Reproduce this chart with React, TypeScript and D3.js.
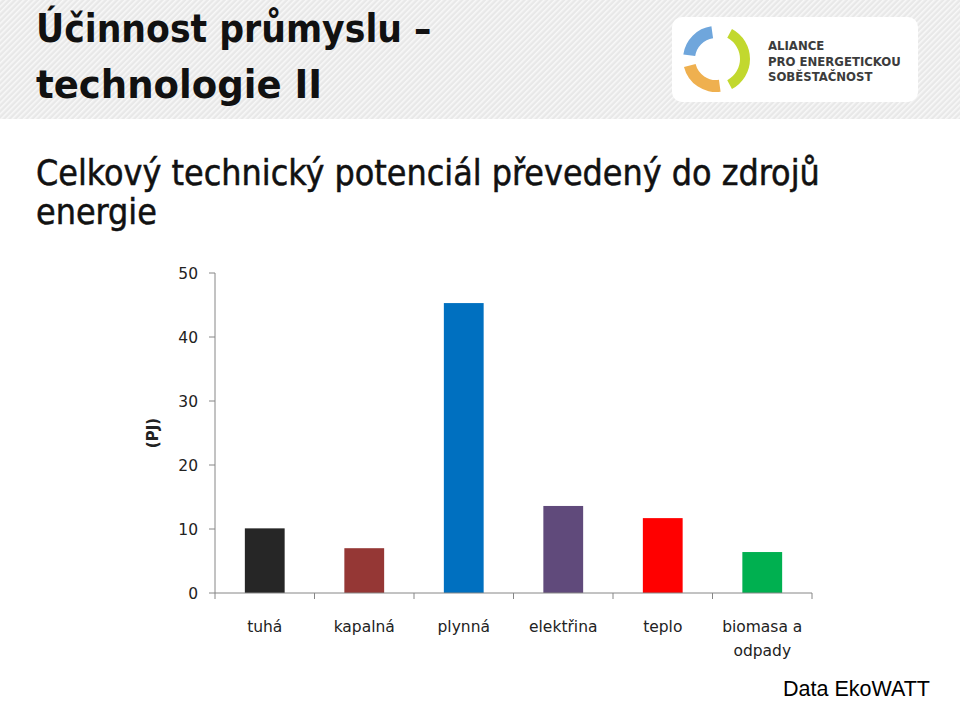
import React from 'react';
import * as d3 from 'd3';

const categories = ['tuhá', 'kapalná', 'plynná', 'elektřina', 'teplo', 'biomasa a odpady'];
const values = [10.1, 7.0, 45.3, 13.6, 11.7, 6.4];
const barColors = ['#262626', '#953735', '#0070c0', '#604a7b', '#ff0000', '#00b050'];
const yTicks = [0, 10, 20, 30, 40, 50];
const logoLines = ['ALIANCE', 'PRO ENERGETICKOU', 'SOBĚSTAČNOST'];

const W = 960;
const H = 701;
const chartFont = '"DejaVu Sans", Verdana, sans-serif';
const titleFont = '"DejaVu Sans Condensed", "DejaVu Sans", sans-serif';

const App = () => {
    const margin = { left: 215, right: 148, top: 273, bottom: 108 };
    const x = d3.scaleBand<string>().domain(categories).range([margin.left, W - margin.right]).paddingInner(0.6).paddingOuter(0.3);
    const y = d3.scaleLinear().domain([0, 50]).range([H - margin.bottom, margin.top]);
    const band = d3.scaleBand<string>().domain(categories).range([margin.left, W - margin.right]);

    const logoArc = d3.arc<any>();
    const lc = { x: 716, y: 59 };
    const rad = (deg: number) => (deg * Math.PI) / 180;

    return (
        <svg width={W} height={H} style={{ position: 'absolute', left: 0, top: 0, background: '#fff' }}>
            <defs>
                <pattern id="stripes" width="4" height="4" patternUnits="userSpaceOnUse" patternTransform="rotate(45)">
                    <rect width="4" height="4" fill="#e8e8e8" />
                    <rect width="1.6" height="4" fill="#f8f8f8" />
                </pattern>
            </defs>
            {/* header band */}
            <rect x={0} y={0} width={W} height={119} fill="url(#stripes)" />
            <text x={36} y={42} fontFamily={titleFont} fontWeight="bold" fontSize={38.6} fill="#111">Účinnost průmyslu –</text>
            <text x={36} y={98} fontFamily={titleFont} fontWeight="bold" fontSize={38.6} fill="#111"
                textLength={286} lengthAdjust="spacingAndGlyphs">technologie II</text>

            {/* logo */}
            <rect x={672} y={17} width={246} height={85} rx={10} fill="#fff" />
            <g transform={`translate(${lc.x},${lc.y})`}>
                <path d={logoArc({ innerRadius: 21, outerRadius: 33, startAngle: rad(-82), endAngle: rad(-8) }) as string} fill="#6fa6dc" />
                <path d={logoArc({ innerRadius: 21, outerRadius: 33, startAngle: rad(172), endAngle: rad(256) }) as string} fill="#efb04f" />
                <path d={logoArc({ innerRadius: 24, outerRadius: 34, startAngle: rad(28), endAngle: rad(152) }) as string} fill="#c2d82e" />
            </g>
            {logoLines.map((t, i) => (
                <text key={t} x={768} y={50 + i * 15.5} fontFamily={titleFont} fontWeight="bold" fontSize={13} fill="#3c3c3c">{t}</text>
            ))}

            {/* subtitle */}
            <text x={36} y={185} fontFamily={titleFont} fontSize={35.5} fill="#111" stroke="#111" strokeWidth={0.5}>Celkový technický potenciál převedený do zdrojů</text>
            <text x={36} y={224} fontFamily={titleFont} fontSize={35.5} fill="#111" stroke="#111" strokeWidth={0.5}>energie</text>

            {/* y axis */}
            <line x1={margin.left} x2={margin.left} y1={y(0)} y2={y(50)} stroke="#868686" />
            {yTicks.map(t => (
                <g key={t}>
                    <line x1={margin.left - 6} x2={margin.left} y1={y(t)} y2={y(t)} stroke="#868686" />
                    <text x={198} y={y(t)} dy="0.36em" textAnchor="end" fontFamily={chartFont} fontSize={15.5} fill="#222">{t}</text>
                </g>
            ))}
            <text transform={`translate(153,${(y(0) + y(50)) / 2}) rotate(-90)`} textAnchor="middle" dy="0.35em"
                fontFamily={chartFont} fontWeight="bold" fontSize={15} fill="#222">(PJ)</text>

            {/* bars */}
            {categories.map((c, i) => (
                <rect key={c} x={x(c)} y={y(values[i])} width={x.bandwidth()} height={y(0) - y(values[i])} fill={barColors[i]} />
            ))}

            {/* x axis */}
            <line x1={margin.left} x2={W - margin.right} y1={y(0)} y2={y(0)} stroke="#868686" />
            {[...categories.map(c => band(c) as number), W - margin.right].map((p, i) => (
                <line key={i} x1={p} x2={p} y1={y(0)} y2={y(0) + 6} stroke="#868686" />
            ))}
            {categories.map(c => {
                const cx = (band(c) as number) + band.bandwidth() / 2;
                const lines = c === 'biomasa a odpady' ? ['biomasa a', 'odpady'] : [c];
                return lines.map((l, j) => (
                    <text key={c + j} x={cx} y={632 + j * 24} textAnchor="middle" fontFamily={chartFont} fontSize={15.5} fill="#222">{l}</text>
                ));
            })}

            <text x={930} y={696} textAnchor="end" fontFamily='"Liberation Sans", Arial, sans-serif' fontSize={21.5} fill="#000">Data EkoWATT</text>
        </svg>
    );
};

export default App;
